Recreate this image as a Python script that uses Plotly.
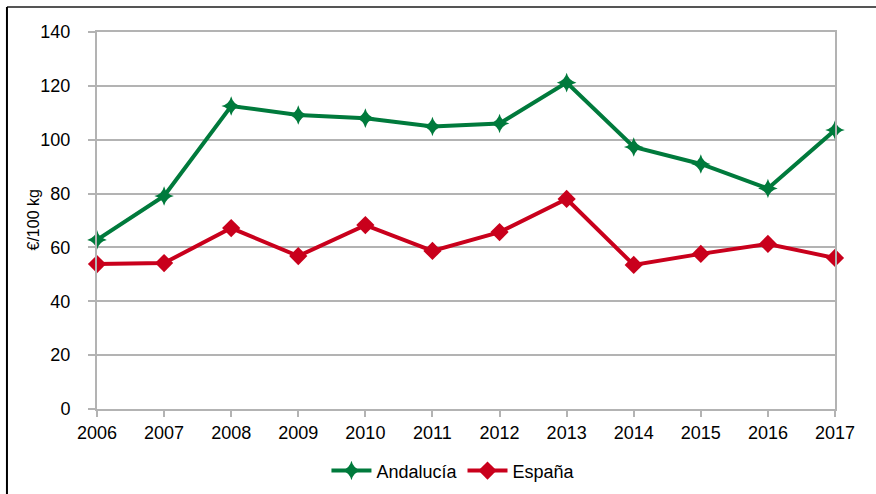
import plotly.graph_objects as go

years = [2006, 2007, 2008, 2009, 2010, 2011, 2012, 2013, 2014, 2015, 2016, 2017]
andalucia = [62.8, 79.1, 112.5, 109.2, 108.0, 104.9, 106.0, 121.2, 97.3, 91.0, 81.9, 103.6]
espana = [53.8, 54.2, 67.2, 56.8, 68.3, 58.7, 65.7, 78.0, 53.5, 57.6, 61.3, 56.1]
y_ticks = [0, 20, 40, 60, 80, 100, 120, 140]

green = "#007A3C"
red = "#C9001C"

fig = go.Figure()
fig.add_trace(go.Scatter(
    x=years, y=andalucia, name="Andalucía", mode="lines+markers",
    line=dict(color=green, width=4),
    marker=dict(symbol="star-diamond", size=14, color=green, line=dict(width=0)),
    cliponaxis=False,
))
fig.add_trace(go.Scatter(
    x=years, y=espana, name="España", mode="lines+markers",
    line=dict(color=red, width=4),
    marker=dict(symbol="diamond", size=14, color=red, line=dict(width=0)),
    cliponaxis=False,
))

fig.update_layout(
    width=876, height=494,
    margin=dict(l=97, r=41, t=32, b=85, autoexpand=False),
    paper_bgcolor="white", plot_bgcolor="white",
    font=dict(family="Liberation Sans, Arial, sans-serif", size=18, color="#000000"),
    showlegend=True,
    legend=dict(orientation="h", x=0.483, xanchor="center", y=-0.115, yanchor="top",
                font=dict(size=18), itemwidth=40, tracegroupgap=0),
    xaxis=dict(
        range=[2006, 2017], tickmode="array", tickvals=years,
        ticktext=[str(y) for y in years],
        showgrid=False, zeroline=False,
        showline=True, linecolor="#B3B3B3", linewidth=2, mirror=True,
        ticks="outside", ticklen=6, tickcolor="#B3B3B3", tickwidth=2,
        tickfont=dict(size=18),
    ),
    yaxis=dict(
        range=[0, 140], tickmode="array", tickvals=y_ticks,
        showgrid=True, gridcolor="#B3B3B3", gridwidth=1.5, zeroline=False,
        showline=True, linecolor="#B3B3B3", linewidth=2, mirror=True,
        ticks="outside", ticklen=7, tickcolor="#B3B3B3", tickwidth=2,
        ticklabelstandoff=14,
        tickfont=dict(size=18),
    ),
    annotations=[
        dict(text="€/100 kg", xref="paper", yref="paper", x=(33 - 97) / 738, y=0.5,
             xanchor="center", yanchor="middle", textangle=-90, showarrow=False,
             font=dict(size=16, color="#000000")),
    ],
    shapes=[
        dict(type="line", xref="paper", yref="paper", x0=-0.122, x1=1.2, y0=1.066, y1=1.066,
             line=dict(color="#555555", width=2)),
        dict(type="line", xref="paper", yref="paper", x0=-0.122, x1=-0.122, y0=-0.3, y1=1.066,
             line=dict(color="#000000", width=2)),
    ],
)

fig.write_html("out.html", config={"displayModeBar": False},
               post_script="document.body.style.margin='0';document.body.style.overflow='hidden';")
